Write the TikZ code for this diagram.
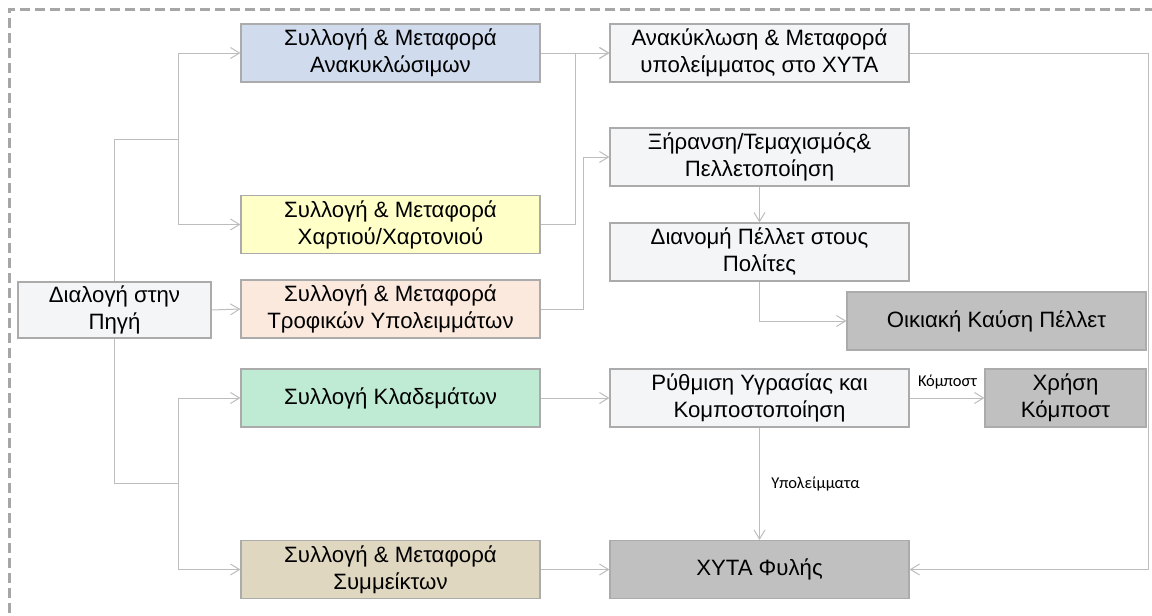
\documentclass[tikz,border=0pt]{standalone}
\usepackage{fontspec}
\setmainfont{Liberation Sans}
\newfontfamily\lblfont{Carlito}
\usetikzlibrary{arrows.meta}

\definecolor{framegray}{HTML}{A6A6A6}
\definecolor{boxline}{HTML}{ABABAB}
\definecolor{linegray}{HTML}{BDBDBD}
\definecolor{fillblue}{HTML}{D0DCEE}
\definecolor{fillyellow}{HTML}{FFFFC8}
\definecolor{fillpeach}{HTML}{FCE9DE}
\definecolor{fillgreen}{HTML}{BFEAD3}
\definecolor{filltan}{HTML}{DFD7C0}
\definecolor{filllight}{HTML}{F4F5F7}
\definecolor{filldark}{HTML}{C0C0C0}

\begin{document}
\begin{tikzpicture}[x=1pt,y=-1pt,
  box/.style={draw=boxline, line width=1.2pt, minimum width=299pt, minimum height=58pt,
              align=center, inner sep=0pt, font=\fontsize{22.2}{27}\selectfont},
  conn/.style={draw=linegray, line width=1pt},
  arr/.style={conn, -{Straight Barb[length=9pt,width=11pt]}},
  lbl/.style={font=\lblfont\fontsize{16.5}{18}\selectfont, inner sep=1pt},
]
\useasboundingbox (0,0) rectangle (1152,616);
\clip (0,0) rectangle (1152,616);

% outer dashed frame
\draw[framegray, line width=3pt, dash pattern=on 10pt off 5pt] (1170,9) -- (9,9) -- (9,640);

% source separation
\node[box, fill=filllight, minimum width=193pt, minimum height=56pt] (dia) at (114.5,310) {Διαλογή στην\\Πηγή};

% collection streams
\node[box, fill=fillblue]   (b1) at (390.5,53)    {Συλλογή \& Μεταφορά\\Ανακυκλώσιμων};
\node[box, fill=fillyellow] (b2) at (390.5,224.5) {Συλλογή \& Μεταφορά\\Χαρτιού/Χαρτονιού};
\node[box, fill=fillpeach]  (b3) at (390.5,309)   {Συλλογή \& Μεταφορά\\Τροφικών Υπολειμμάτων};
\node[box, fill=fillgreen]  (b4) at (390.5,398)   {Συλλογή Κλαδεμάτων};
\node[box, fill=filltan]    (b5) at (390.5,569.5) {Συλλογή \& Μεταφορά\\Συμμείκτων};

% treatment
\node[box, fill=filllight] (ana)  at (759.5,53)    {Ανακύκλωση \& Μεταφορά\\υπολείμματος στο ΧΥΤΑ};
\node[box, fill=filllight] (xir)  at (759.5,157)   {Ξήρανση/Τεμαχισμός\&\\Πελλετοποίηση};
\node[box, fill=filllight] (dian) at (759.5,252)   {Διανομή Πέλλετ στους\\Πολίτες};
\node[box, fill=filllight] (ryth) at (759.5,398)   {Ρύθμιση Υγρασίας και\\Κομποστοποίηση};
\node[box, fill=filldark]  (xyta) at (759.5,569.5) {ΧΥΤΑ Φυλής};

% final uses
\node[box, fill=filldark] (oik) at (996.5,321) {Οικιακή Καύση Πέλλετ};
\node[box, fill=filldark, minimum width=161pt] (xri) at (1065.5,398) {Χρήση\\Κόμποστ};

% junction points
\coordinate (j1) at (178,139);
\coordinate (j2) at (178,483);
\coordinate (k1) at (575,53);
\coordinate (k2) at (583,157);
\coordinate (r1) at (1148,53);

% from source separation
\draw[conn] (dia.north) |- (j1);
\draw[arr] (j1) |- (b1.west);
\draw[arr] (j1) |- (b2.west);
\draw[arr] (dia.east) -- (b3.west);
\draw[conn] (dia.south) |- (j2);
\draw[arr] (j2) |- (b4.west);
\draw[arr] (j2) |- (b5.west);

% streams to treatment
\draw[arr] (b1.east) -- (ana.west);
\draw[arr] (b2.east) -| (k1) -- (ana.west);
\draw[arr] (b3.east) -| (k2) -- (xir.west);
\draw[arr] (xir.south) -- (dian.north);
\draw[arr] (dian.south) |- (oik.west);
\draw[arr] (b4.east) -- (ryth.west);
\draw[arr] (ryth.east) -- (xri.west);
\draw[arr] (ryth.south) -- (xyta.north);
\draw[arr] (b5.east) -- (xyta.west);
\draw[arr] (ana.east) -- (r1) |- (xyta.east);

% flow labels
\node[lbl] (lk) at (947.5,382) {Κόμποστ};
\node[lbl] (ly) at (815.5,484) {Υπολείμματα};
\end{tikzpicture}
\end{document}
